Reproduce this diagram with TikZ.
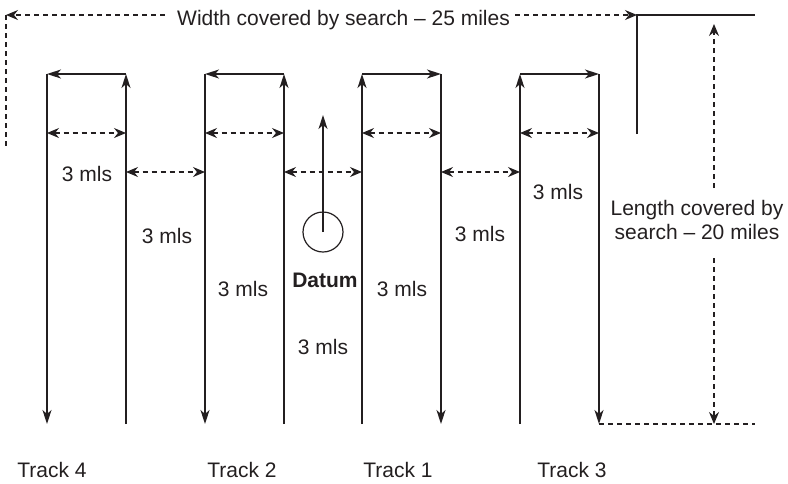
\documentclass[tikz,border=0pt]{standalone}
\usepackage{fontspec}
\setmainfont{Liberation Sans}
\usetikzlibrary{arrows.meta}
\definecolor{inkc}{HTML}{231F20}
\begin{document}
\begin{tikzpicture}[x=1pt,y=-1pt,
  font=\fontsize{21}{24}\selectfont,
  solidln/.style={draw=inkc, line width=1.4pt},
  trk/.style={solidln, -{Stealth[length=14pt,width=9pt,inset=4pt]}},
  dashln/.style={draw=inkc, line width=1.2pt, dash pattern=on 5pt off 4pt},
  dimtwo/.style={dashln, {Stealth[length=12pt,width=10pt,inset=4pt]}-{Stealth[length=12pt,width=10pt,inset=4pt]}},
  dimone/.style={dashln, -{Stealth[length=12pt,width=10pt,inset=4pt]}},
  lbl/.style={text=inkc, inner sep=0pt}]
\useasboundingbox (0,0) rectangle (788,483);

% track line tops and bottoms
\foreach \n/\x in {aL/47,aR/126,bL/205,bR/284,cL/362,cR/441,dL/520,dR/599}{
  \coordinate (\n t) at (\x,74);
  \coordinate (\n b) at (\x,424);
}
\coordinate (ya) at (0,133);
\coordinate (yb) at (0,172);

% Track 4
\draw[trk] (aRb) -- (aRt);
\draw[trk] (aRt) -- (aLt);
\draw[trk] (aLt) -- (aLb);
% Track 2
\draw[trk] (bRb) -- (bRt);
\draw[trk] (bRt) -- (bLt);
\draw[trk] (bLt) -- (bLb);
% Track 1
\draw[trk] (cLb) -- (cLt);
\draw[trk] (cLt) -- (cRt);
\draw[trk] (cRt) -- (cRb);
% Track 3
\draw[trk] (dLb) -- (dLt);
\draw[trk] (dLt) -- (dRt);
\draw[trk] (dRt) -- (dRb);

% spacing dimension arrows
\draw[dimtwo] (aLt |- ya) -- (aRt |- ya);
\draw[dimtwo] (bLt |- ya) -- (bRt |- ya);
\draw[dimtwo] (cLt |- ya) -- (cRt |- ya);
\draw[dimtwo] (dLt |- ya) -- (dRt |- ya);
\draw[dimtwo] (aRt |- yb) -- (bLt |- yb);
\draw[dimtwo] (bRt |- yb) -- (cLt |- yb);
\draw[dimtwo] (cRt |- yb) -- (dLt |- yb);

% datum
\node[draw=inkc, line width=1.2pt, circle, minimum size=40pt, inner sep=0pt] (dat) at (323,232) {};
\coordinate (datup) at (323,115);
\draw[trk, line width=1.2pt] (dat.center) -- (datup);
\node[lbl, font=\fontsize{21}{24}\selectfont\bfseries] (datl) at (325,280) {Datum};

% 3 mls labels
\node[lbl] (m1) at (87,174) {3 mls};
\node[lbl] (m2) at (167,236) {3 mls};
\node[lbl] (m3) at (243,289) {3 mls};
\node[lbl] (m4) at (323,347) {3 mls};
\node[lbl] (m5) at (402,289) {3 mls};
\node[lbl] (m6) at (480,234) {3 mls};
\node[lbl] (m7) at (558,192) {3 mls};

% track labels
\node[lbl] (t4) at (52,470) {Track 4};
\node[lbl] (t2) at (242,470) {Track 2};
\node[lbl] (t1) at (398,470) {Track 1};
\node[lbl] (t3) at (572,470) {Track 3};

% width covered
\coordinate (tl) at (6,15);
\coordinate (lb) at (6,147);
\coordinate (tr) at (637,15);
\coordinate (trb) at (637,134);
\coordinate (tre) at (755,15);
\node[lbl, anchor=base] (wid) at (343.5,25) {Width covered by search -- 25 miles};
\draw[dimone] ([xshift=-12pt]wid.west |- tl) -- (tl);
\draw[dashln] (tl) -- (lb);
\draw[dimone] ([xshift=5pt]wid.east |- tr) -- (tr);
\draw[solidln] (trb) -- (tr) -- (tre);

% length covered
\node[lbl, align=center] (len) at (697,220) {Length covered by\\search -- 20 miles};
\coordinate (vt) at (714,24);
\coordinate (vu) at (714,188);
\coordinate (vd) at (714,258);
\coordinate (vb) at (714,424);
\coordinate (be) at (755,424);
\draw[dimone] (vu) -- (vt);
\draw[dimone] (vd) -- (vb);
\draw[dashln] (dRb) -- (be);
\end{tikzpicture}
\end{document}
